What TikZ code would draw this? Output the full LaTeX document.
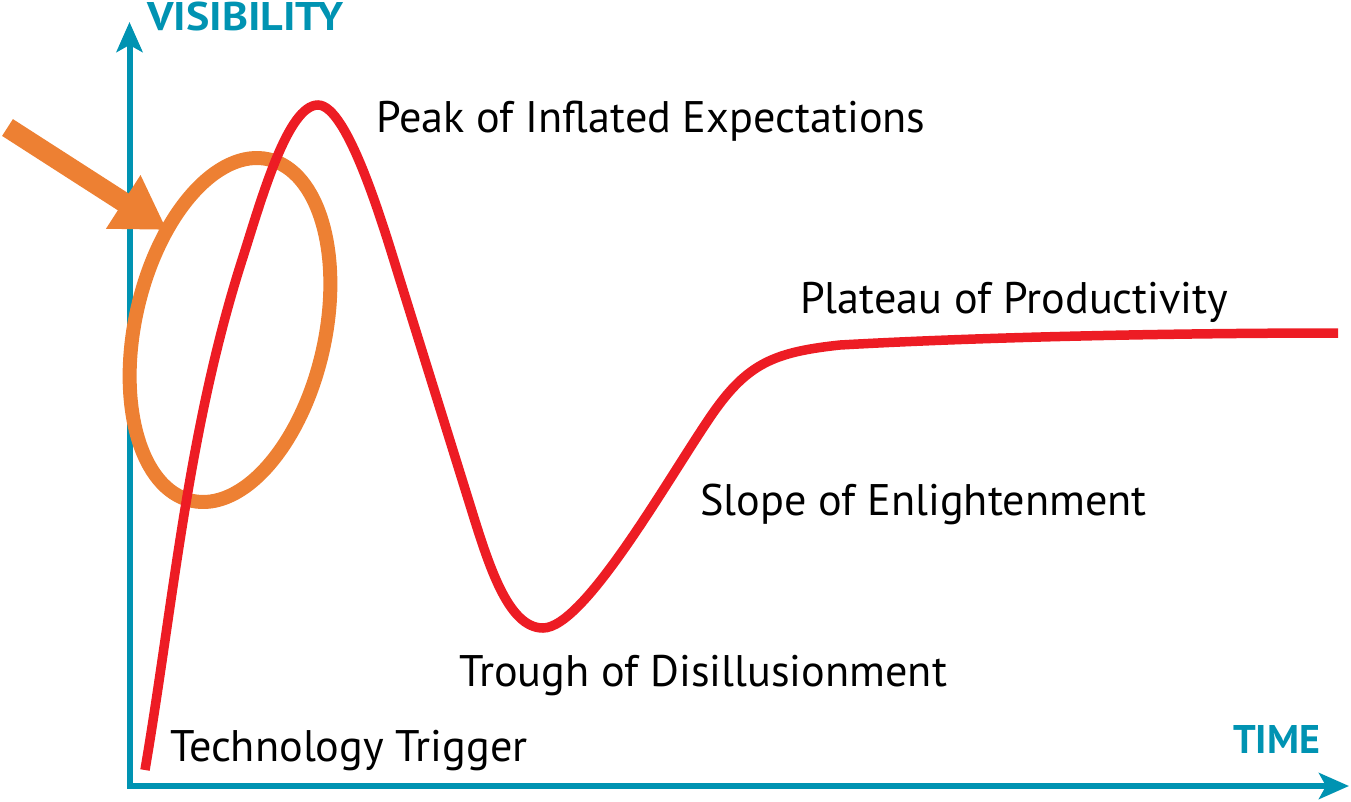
\documentclass[tikz,border=0pt]{standalone}
\usepackage{fontspec}
\setmainfont{PT Sans}
\usetikzlibrary{arrows.meta}
\definecolor{axisblue}{RGB}{0,147,178}
\definecolor{curvered}{RGB}{237,28,36}
\definecolor{markorange}{RGB}{237,128,51}
\tikzset{
  axisline/.style={draw=axisblue,line width=6pt,{Stealth[length=30pt,width=26pt,inset=7pt]}-{Stealth[length=30pt,width=26pt,inset=7pt]}},
  hype/.style={draw=curvered,line width=9.5pt,line cap=butt},
  ring/.style={draw=markorange,line width=14pt},
  pointer/.style={draw=markorange,line width=20pt,-{Triangle[length=52pt,width=60pt]}},
  phase/.style={anchor=base west,inner sep=0pt,font=\fontsize{44.2}{52}\selectfont},
  axislabel/.style={anchor=base west,inner sep=0pt,text=axisblue,font=\bfseries\fontsize{40}{46}\selectfont},
}
\begin{document}
\begin{tikzpicture}[x=1pt,y=-1pt]
\useasboundingbox (0,0) rectangle (1351,801);
% axes
\coordinate (ytip) at (129.5,22);
\coordinate (origin) at (129.5,786);
\coordinate (xtip) at (1349,786);
\draw[axisline] (ytip) -- (origin) -- (xtip);
\node[axislabel,xscale=1.1] (vis) at (147,30) {VISIBILITY};
\node[axislabel] (time) at (1233,753) {TIME};
% orange marker
\coordinate (ringc) at (230,330);
\draw[ring,rotate around={-12.7:(ringc)}] (ringc) ellipse [x radius=95pt,y radius=175pt];
\coordinate (ps) at (7.5,127.5);
\coordinate (pt) at (167,230);
\draw[pointer] (ps) -- (pt);
% hype curve
\draw[hype] (145,770) .. controls (174,599) and (188,428) .. (243,257)
  .. controls (262,197) and (288,105) .. (318,105)
  .. controls (348,105) and (384.5,230) .. (400,280)
  -- (470,505)
  .. controls (488.6,565) and (508,628) .. (543,628)
  .. controls (585,628) and (670,475) .. (713,413)
  .. controls (748,363) and (775,352) .. (840,345)
  .. controls (1000,336) and (1200,333) .. (1338,333);
% phase labels
\node[phase] (peak) at (376,132) {Peak of Inflated Expectations};
\node[phase] (plateau) at (800,313) {Plateau of Productivity};
\node[phase] (slope) at (700,515) {Slope of Enlightenment};
\node[phase] (trough) at (459,686) {Trough of Disillusionment};
\node[phase] (trigger) at (170,761) {Technology Trigger};
\end{tikzpicture}
\end{document}
